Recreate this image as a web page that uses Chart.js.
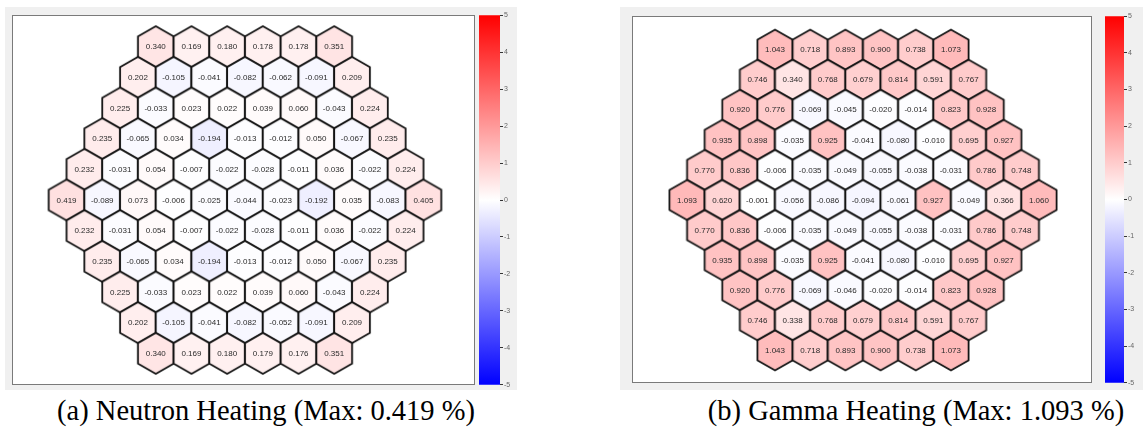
<!DOCTYPE html>
<html><head><meta charset="utf-8">
<script src="https://cdn.jsdelivr.net/npm/chart.js@4.4.1/dist/chart.umd.min.js"></script>
<style>
html,body{margin:0;padding:0;background:#fff}
body{width:1143px;height:427px;overflow:hidden;position:relative;font-family:"Liberation Sans",Arial,sans-serif}
.bg{position:absolute;background:#f0f0f0}
.box{position:absolute;background:#fff;border:1px solid #7a7a7a;box-sizing:border-box}
canvas{position:absolute;display:block}
.cap{position:absolute;font-family:"Liberation Serif","Times New Roman",serif;font-size:28.5px;line-height:29px;color:#000;white-space:nowrap;transform:translateX(-50%)}
</style></head><body>
<div class="bg" style="left:5px;top:7px;width:512px;height:383px"></div>
<div class="bg" style="left:620px;top:7px;width:523px;height:383px"></div>
<div class="box" style="left:12px;top:15px;width:463px;height:370px"></div>
<div class="box" style="left:632px;top:16px;width:460px;height:367px"></div>
<canvas id="hexA" width="463" height="370" style="left:12px;top:15px"></canvas>
<canvas id="hexB" width="460" height="367" style="left:632px;top:16px"></canvas>
<canvas id="cbA" width="35" height="380" style="left:479px;top:10px"></canvas>
<canvas id="cbB" width="33" height="377" style="left:1105px;top:11px"></canvas>
<div class="cap" id="capA" style="left:266px;top:396px"></div>
<div class="cap" id="capB" style="left:916px;top:396px"></div>
<script>
// ---- data ----
const neutronRows = [
  [0.340, 0.169, 0.180, 0.178, 0.178, 0.351],
  [0.202, -0.105, -0.041, -0.082, -0.062, -0.091, 0.209],
  [0.225, -0.033, 0.023, 0.022, 0.039, 0.060, -0.043, 0.224],
  [0.235, -0.065, 0.034, -0.194, -0.013, -0.012, 0.050, -0.067, 0.235],
  [0.232, -0.031, 0.054, -0.007, -0.022, -0.028, -0.011, 0.036, -0.022, 0.224],
  [0.419, -0.089, 0.073, -0.006, -0.025, -0.044, -0.023, -0.192, 0.035, -0.083, 0.405],
  [0.232, -0.031, 0.054, -0.007, -0.022, -0.028, -0.011, 0.036, -0.022, 0.224],
  [0.235, -0.065, 0.034, -0.194, -0.013, -0.012, 0.050, -0.067, 0.235],
  [0.225, -0.033, 0.023, 0.022, 0.039, 0.060, -0.043, 0.224],
  [0.202, -0.105, -0.041, -0.082, -0.052, -0.091, 0.209],
  [0.340, 0.169, 0.180, 0.179, 0.176, 0.351]
];
const gammaRows = [
  [1.043, 0.718, 0.893, 0.900, 0.738, 1.073],
  [0.746, 0.340, 0.768, 0.679, 0.814, 0.591, 0.767],
  [0.920, 0.776, -0.069, -0.045, -0.020, -0.014, 0.823, 0.928],
  [0.935, 0.898, -0.035, 0.925, -0.041, -0.080, -0.010, 0.695, 0.927],
  [0.770, 0.836, -0.006, -0.035, -0.049, -0.055, -0.038, -0.031, 0.786, 0.748],
  [1.093, 0.620, -0.001, -0.056, -0.086, -0.094, -0.061, 0.927, -0.049, 0.366, 1.060],
  [0.770, 0.836, -0.006, -0.035, -0.049, -0.055, -0.038, -0.031, 0.786, 0.748],
  [0.935, 0.898, -0.035, 0.925, -0.041, -0.080, -0.010, 0.695, 0.927],
  [0.920, 0.776, -0.069, -0.046, -0.020, -0.014, 0.823, 0.928],
  [0.746, 0.338, 0.768, 0.679, 0.814, 0.591, 0.767],
  [1.043, 0.718, 0.893, 0.900, 0.738, 1.073]
];
const colorbarMin = -5;
const colorbarMax = 5;
const colorbarStep = 1;
const captionA = '(a) Neutron Heating (Max: 0.419 %)';
const captionB = '(b) Gamma Heating (Max: 1.093 %)';

document.getElementById('capA').textContent = captionA;
document.getElementById('capB').textContent = captionB;

// ---- colour map (blue - white - red) ----
function cmap(v, gamma){
  let t = Math.max(-1, Math.min(1, v / colorbarMax));
  const s = Math.pow(Math.abs(t), gamma || 1);
  let r, g, b;
  if (t >= 0) { r = 255; g = b = Math.round(255 * (1 - s)); }
  else { b = 255; r = g = Math.round(255 * (1 - s)); }
  return `rgb(${r},${g},${b})`;
}

// hex grid points: rows -> (column offset, row offset)
function toPoints(rows){
  const pts = [];
  const n = rows.length;
  rows.forEach((row, r) => {
    row.forEach((v, i) => {
      pts.push({x: i - (row.length - 1) / 2, y: (n - 1) / 2 - r, v: v});
    });
  });
  return pts;
}

const hexCache = {};
function hexCanvas(fill, w, h){
  const key = fill + '|' + w.toFixed(2) + '|' + h.toFixed(2);
  if (hexCache[key]) return hexCache[key];
  const W = Math.ceil(w) + 4, H = Math.ceil(h) + 4;
  const c = document.createElement('canvas');
  c.width = W; c.height = H;
  const g = c.getContext('2d');
  const cx = W / 2, cy = H / 2;
  g.beginPath();
  g.moveTo(cx, cy - h / 2);
  g.lineTo(cx + w / 2, cy - h / 4);
  g.lineTo(cx + w / 2, cy + h / 4);
  g.lineTo(cx, cy + h / 2);
  g.lineTo(cx - w / 2, cy + h / 4);
  g.lineTo(cx - w / 2, cy - h / 4);
  g.closePath();
  g.fillStyle = fill;
  g.fill();
  g.lineWidth = 1.8;
  g.lineJoin = 'miter';
  g.strokeStyle = '#141414';
  g.stroke();
  hexCache[key] = c;
  return c;
}

const hexLabels = {
  id: 'hexLabels',
  afterDatasetsDraw(chart){
    const ctx = chart.ctx;
    const meta = chart.getDatasetMeta(0);
    const data = chart.data.datasets[0].data;
    ctx.save();
    ctx.font = '8px "Liberation Sans", Arial, sans-serif';
    ctx.fillStyle = '#2a2a2a';
    ctx.textAlign = 'center';
    ctx.textBaseline = 'middle';
    meta.data.forEach((el, i) => {
      ctx.fillText(data[i].v.toFixed(3), el.x, el.y + 0.5);
    });
    ctx.restore();
  }
};

function hexChart(id, rows, lay){
  const canvas = document.getElementById(id);
  const W = canvas.width, H = canvas.height;
  const xmin = -(lay.cx - lay.left) / lay.ux, xmax = (lay.left + W - lay.cx) / lay.ux;
  const ymax = (lay.cy - lay.top) / lay.uy, ymin = -(lay.top + H - lay.cy) / lay.uy;
  return new Chart(canvas, {
    type: 'scatter',
    data: {datasets: [{
      data: toPoints(rows),
      pointRadius: 1,
      pointHoverRadius: 1,
      pointStyle: (ctx) => {
        const sx = ctx.chart.scales.x, sy = ctx.chart.scales.y;
        const w = Math.abs(sx.getPixelForValue(1) - sx.getPixelForValue(0));
        const h = Math.abs(sy.getPixelForValue(1) - sy.getPixelForValue(0)) / 0.75;
        return hexCanvas(cmap(ctx.raw ? ctx.raw.v : 0, 0.85), w, h);
      }
    }]},
    options: {
      responsive: false, animation: false, events: [],
      layout: {padding: 0},
      plugins: {legend: {display: false}, tooltip: {enabled: false}},
      scales: {
        x: {type: 'linear', display: false, min: xmin, max: xmax},
        y: {type: 'linear', display: false, min: ymin, max: ymax}
      }
    },
    plugins: [hexLabels]
  });
}

function colorbar(id){
  return new Chart(document.getElementById(id), {
    type: 'bar',
    data: {labels: [''], datasets: [{
      data: [[colorbarMin, colorbarMax]],
      borderWidth: 0,
      barPercentage: 1,
      categoryPercentage: 1,
      backgroundColor: (c) => {
        const area = c.chart.chartArea;
        if (!area) return '#fff';
        const g = c.chart.ctx.createLinearGradient(0, area.top, 0, area.bottom);
        g.addColorStop(0, cmap(colorbarMax));
        g.addColorStop(0.5, cmap(0));
        g.addColorStop(1, cmap(colorbarMin));
        return g;
      }
    }]},
    options: {
      responsive: false, animation: false, events: [],
      layout: {padding: {top: 5, bottom: 5, left: 0, right: 0}},
      plugins: {legend: {display: false}, tooltip: {enabled: false}},
      scales: {
        x: {display: false},
        y: {
          position: 'right', min: colorbarMin, max: colorbarMax,
          ticks: {stepSize: colorbarStep, font: {size: 7, family: 'Liberation Sans'}, color: '#666', padding: 1},
          grid: {drawOnChartArea: false, drawTicks: true, tickLength: 3, color: '#333'},
          border: {display: false},
          afterFit(s){ s.width = 14; }
        }
      }
    }
  });
}

hexChart('hexA', neutronRows, {left: 12, top: 15, cx: 245, cy: 200, ux: 36, uy: 31});
hexChart('hexB', gammaRows, {left: 632, top: 16, cx: 863, cy: 200, ux: 35.5, uy: 30.4});
colorbar('cbA');
colorbar('cbB');
</script>
</body></html>
